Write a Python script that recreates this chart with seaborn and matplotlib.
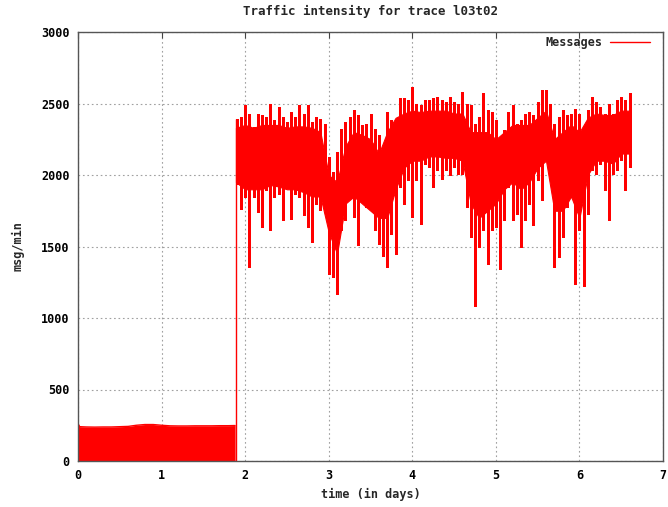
#!/usr/bin/env python3
"""
Traffic intensity for trace l03t02 (gnuplot-style look)
"""

import matplotlib
matplotlib.use("Agg")
import matplotlib.pyplot as plt
import seaborn as sns
import numpy as np

# quiet period: day and msg/min (the signal sits on a solid floor at 0)
early_days = [0.0, 0.02, 0.1, 0.2, 0.3, 0.4, 0.5, 0.6, 0.7, 0.8, 0.9, 1.0,
              1.1, 1.2, 1.3, 1.4, 1.5, 1.6, 1.7, 1.8, 1.88]
early_msg = [262, 240, 238, 237, 238, 238, 240, 242, 250, 255, 255, 250,
             246, 245, 245, 246, 246, 246, 247, 247, 248]

# busy period: dense core band (solid) at 0.1 day steps
core_days = [1.89, 2.0, 2.1, 2.2, 2.3, 2.4, 2.5, 2.6, 2.7, 2.8, 2.9, 3.0,
             3.1, 3.2, 3.3, 3.4, 3.5, 3.6, 3.7, 3.8, 3.9, 4.0, 4.1, 4.2,
             4.3, 4.4, 4.5, 4.6, 4.7, 4.8, 4.9, 5.0, 5.1, 5.2, 5.3, 5.4,
             5.5, 5.6, 5.7, 5.8, 5.9, 6.0, 6.1, 6.2, 6.3, 6.4, 6.5, 6.6]
core_hi = [2330, 2350, 2330, 2350, 2350, 2350, 2330, 2340, 2340, 2330,
           2300, 2000, 1950, 2200, 2300, 2280, 2250, 2150, 2300, 2400,
           2430, 2450, 2440, 2450, 2450, 2450, 2430, 2430, 2300, 2300,
           2300, 2250, 2300, 2350, 2350, 2350, 2400, 2450, 2250, 2300,
           2350, 2300, 2400, 2430, 2420, 2420, 2450, 2450]
core_lo = [1950, 1900, 1900, 1900, 1930, 1920, 1900, 1900, 1880, 1850,
           1850, 1600, 1450, 1800, 1850, 1800, 1750, 1700, 1700, 1900,
           2050, 2100, 2100, 2130, 2130, 2120, 2120, 2100, 1800, 1700,
           1750, 1800, 1900, 1950, 1900, 1950, 2050, 2100, 1750, 1750,
           1850, 1700, 2000, 2100, 2100, 2080, 2150, 2150]

# busy period: extreme spikes (max / min msg/min) at 0.05 day steps
busy_days = [1.90, 1.95, 2.00, 2.05, 2.10, 2.15, 2.20, 2.25, 2.30, 2.35,
             2.40, 2.45, 2.50, 2.55, 2.60, 2.65, 2.70, 2.75, 2.80, 2.85,
             2.90, 2.95, 3.00, 3.05, 3.10, 3.15, 3.20, 3.25, 3.30, 3.35,
             3.40, 3.45, 3.50, 3.55, 3.60, 3.65, 3.70, 3.75, 3.80, 3.85,
             3.90, 3.95, 4.00, 4.05, 4.10, 4.15, 4.20, 4.25, 4.30, 4.35,
             4.40, 4.45, 4.50, 4.55, 4.60, 4.65, 4.70, 4.75, 4.80, 4.85,
             4.90, 4.95, 5.00, 5.05, 5.10, 5.15, 5.20, 5.25, 5.30, 5.35,
             5.40, 5.45, 5.50, 5.55, 5.60, 5.65, 5.70, 5.75, 5.80, 5.85,
             5.90, 5.95, 6.00, 6.05, 6.10, 6.15, 6.20, 6.25, 6.30, 6.35,
             6.40, 6.45, 6.50, 6.55, 6.60]
busy_hi = [2395, 2406, 2488, 2430, 2336, 2430, 2418, 2406, 2500, 2383,
           2477, 2406, 2371, 2441, 2406, 2488, 2430, 2488, 2371, 2406,
           2395, 2360, 2126, 2021, 2161, 2325, 2371, 2406, 2453, 2418,
           2348, 2360, 2430, 2325, 2278, 2033, 2441, 2383, 2313, 2535,
           2535, 2523, 2617, 2500, 2488, 2523, 2523, 2535, 2547, 2523,
           2512, 2547, 2512, 2500, 2582, 2500, 2488, 2360, 2406, 2570,
           2453, 2441, 2383, 2196, 2313, 2441, 2488, 2360, 2383, 2430,
           2441, 2420, 2512, 2593, 2593, 2500, 2360, 2406, 2453, 2418,
           2430, 2465, 2430, 2313, 2453, 2547, 2512, 2477, 2430, 2500,
           2430, 2523, 2547, 2523, 2570]
busy_lo = [1940, 1764, 1846, 1355, 1846, 1741, 1636, 1893, 1612, 1846,
           1869, 1682, 1963, 1694, 1869, 1846, 1717, 1636, 1530, 1799,
           1752, 1834, 1309, 1285, 1168, 1612, 1682, 1846, 1706, 1507,
           1893, 1776, 1764, 1612, 1519, 1437, 1355, 1589, 1449, 1916,
           1799, 1963, 1706, 1963, 1659, 2079, 2056, 1916, 2033, 1974,
           2033, 1998, 2056, 2009, 2009, 1776, 1566, 1087, 1495, 1612,
           1379, 1612, 1636, 1344, 1682, 1916, 1682, 1729, 1495, 1682,
           1799, 1650, 1963, 1822, 2103, 2079, 1355, 1425, 1566, 1776,
           1869, 1238, 1612, 1227, 1729, 2033, 2009, 2079, 1893, 1682,
           2009, 2033, 2103, 1893, 2056]

# the jump between both periods
jump_day = 1.89
jump_lo = 0
jump_hi = 2390

x_ticks = [0, 1, 2, 3, 4, 5, 6, 7]
y_ticks = [0, 500, 1000, 1500, 2000, 2500, 3000]

red = '#ff0000'

sns.set_style("white")
plt.rcParams['font.family'] = ['DejaVu Sans Mono']
plt.rcParams['font.weight'] = 'bold'

fig = plt.figure(figsize=(6.68, 5.07), dpi=100)
ax = fig.add_axes([78 / 668, 46 / 507, 585 / 668, 429 / 507])

# quiet period, filled down to 0
ax.fill_between(early_days, 0, early_msg, color=red, linewidth=0)
sns.lineplot(x=early_days, y=early_msg, ax=ax, color=red, linewidth=1.0,
             estimator=None, label='Messages')

# busy period: solid core plus spikes
ax.vlines(jump_day, jump_lo, jump_hi, color=red, linewidth=1.0)
ax.fill_between(core_days, core_lo, core_hi, color=red, linewidth=0.8,
                edgecolor=red)
ax.vlines(busy_days, busy_lo, busy_hi, color=red, linewidth=2.0,
          antialiased=False)

ax.set_xlim(0, 7)
ax.set_ylim(0, 3000)
ax.set_xticks(x_ticks)
ax.set_yticks(y_ticks)
ax.tick_params(direction='in', length=4, width=0.8, colors='#444444',
               labelcolor='black', labelsize=8.5, pad=6,
               top=True, right=False)
ax.grid(True, color='#a0a0a0', linestyle=(0, (1.5, 2.5)), linewidth=0.8)
ax.set_axisbelow(True)
for side in ax.spines.values():
    side.set_color('#555555')
    side.set_linewidth(1.0)

ax.set_title('Traffic intensity for trace l03t02', fontsize=9,
             fontweight='bold', pad=12)
ax.set_xlabel('time (in days)', fontsize=8.5, fontweight='bold', labelpad=4)
ax.set_ylabel('msg/min', fontsize=8.5, fontweight='bold', labelpad=12)

ax.legend(loc='upper right', bbox_to_anchor=(0.978, 0.99), frameon=False,
          markerfirst=False, fontsize=8.5, handlelength=3.4,
          handletextpad=0.6, borderaxespad=0.0, borderpad=0.0)

fig.savefig('out.png', dpi=100)
plt.close(fig)
